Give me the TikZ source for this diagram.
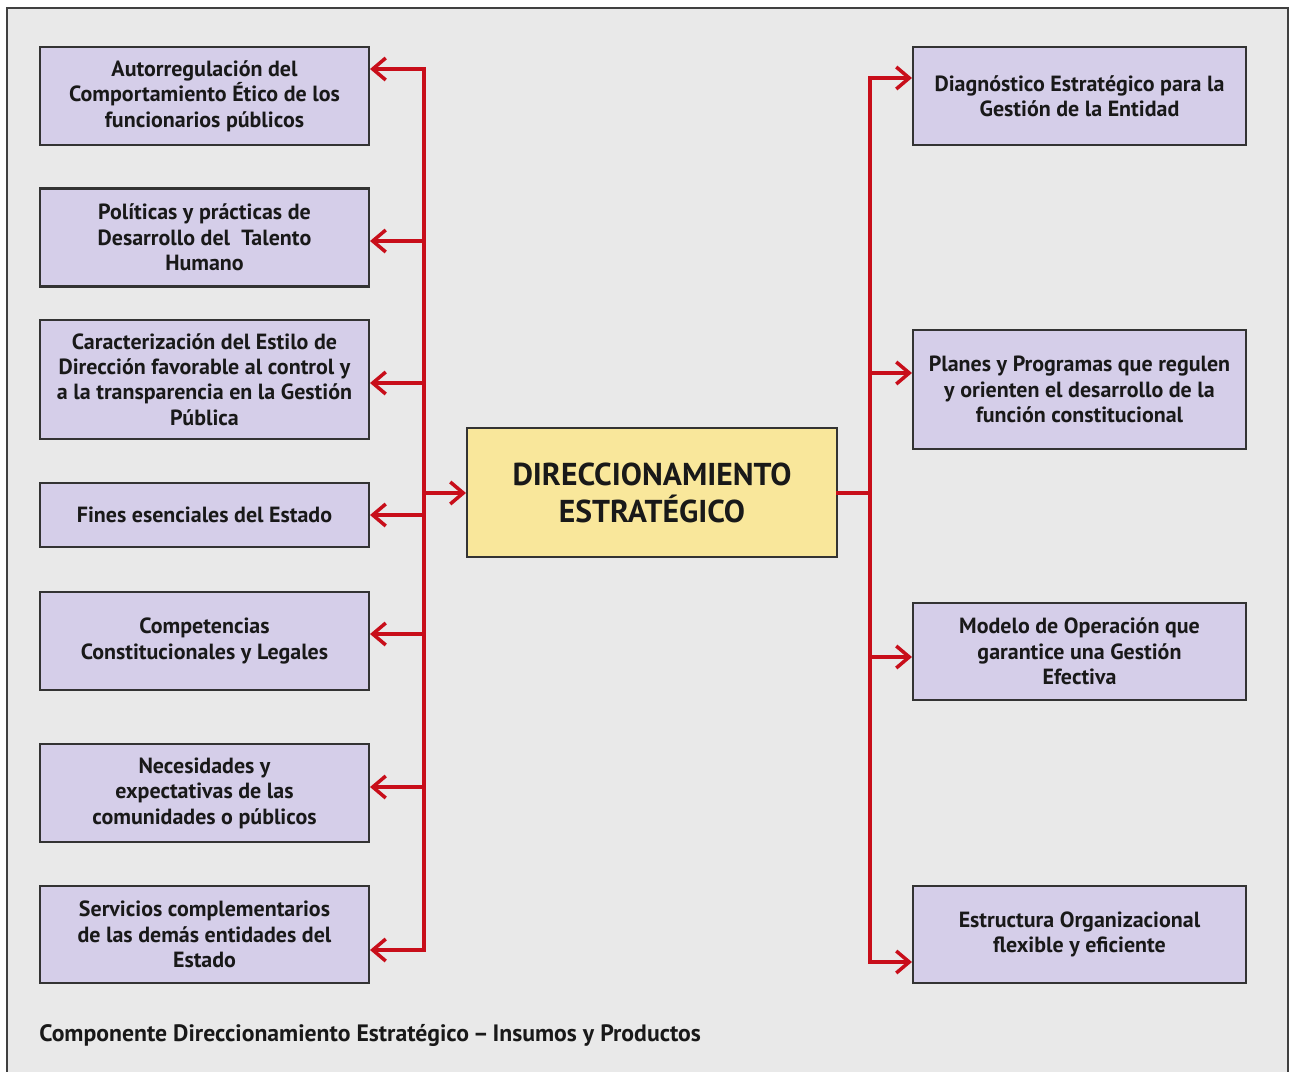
\documentclass[tikz,border=0pt]{standalone}
\usepackage{fontspec}
\setmainfont{PT Sans}
\usetikzlibrary{arrows.meta,calc,positioning}
\definecolor{lila}{RGB}{213,206,233}
\definecolor{amarillo}{RGB}{249,231,155}
\definecolor{rojo}{RGB}{200,14,26}
\definecolor{fondo}{RGB}{233,233,233}
\tikzset{ar/.style={-{Straight Barb[length=2.6mm,width=4.4mm]},rojo,line width=2pt}}
\tikzset{linea/.style={rojo,line width=2pt,line cap=rect}}
\tikzstyle{caja}=[draw=black!80, line width=1.2pt, align=center, inner sep=2pt, text=black!90]
\tikzstyle{insumo}=[caja, fill=lila, minimum width=6.58cm, minimum height=1.96cm, font=\bfseries\fontsize{12.5}{14.5}\selectfont]
\tikzstyle{producto}=[insumo, minimum width=6.66cm]

\begin{document}
\begin{tikzpicture}[x=0.02cm,y=-0.02cm]
      \useasboundingbox (0,0) rectangle (1289,1072);
      \draw[black!75, line width=0.8pt, fill=fondo] (7,8) rectangle (1288,1090);

      % insumos
      \node [insumo] (a1) at (204.5,96) {Autorregulación del\\Comportamiento Ético de los\\funcionarios públicos};
      \node [insumo] (a2) at (204.5,237.5) {Políticas y prácticas de\\Desarrollo del~ Talento\\Humano};
      \node [insumo, minimum height=2.38cm] (a3) at (204.5,379.5) {Caracterización del Estilo de\\Dirección favorable al control y\\a la transparencia en la Gestión\\Pública};
      \node [insumo, minimum height=1.28cm] (a4) at (204.5,515) {Fines esenciales del Estado};
      \node [insumo] (a5) at (204.5,641) {Competencias\\Constitucionales y Legales};
      \node [insumo] (a6) at (204.5,793) {Necesidades y\\expectativas de las\\comunidades o públicos};
      \node [insumo, minimum height=1.94cm] (a7) at (204.5,934.5) {Servicios complementarios\\de las demás entidades del\\Estado};

      \node [caja, fill=amarillo, minimum width=7.4cm, minimum height=2.58cm,
             font=\bfseries\fontsize{18}{21}\selectfont] (dir) at (652,492.5) {DIRECCIONAMIENTO\\ESTRATÉGICO};

      % productos
      \node [producto] (p1) at (1079.5,96) {Diagnóstico Estratégico para la\\Gestión de la Entidad};
      \node [producto, minimum height=2.38cm] (p2) at (1079.5,389.5) {Planes y Programas que regulen\\y orienten el desarrollo de la\\función constitucional};
      \node [producto, minimum height=1.94cm] (p3) at (1079.5,651.5) {Modelo de Operación que\\garantice una Gestión\\Efectiva};
      \node [producto, minimum height=1.94cm] (p4) at (1079.5,934.5) {Estructura Organizacional\\flexible y eficiente};

      \node [anchor=west, inner sep=0pt, font=\bfseries\fontsize{13.5}{16}\selectfont, text=black!90] (titulo) at (39,1035)
            {Componente Direccionamiento Estratégico\,–\,Insumos y Productos};

      % conectores
      \coordinate (bi) at (424,493);
      \coordinate (bo) at (870,493);
      \coordinate (i1) at (424,69);
      \coordinate (i2) at (424,241);
      \coordinate (i3) at (424,383);
      \coordinate (i4) at (424,515);
      \coordinate (i5) at (424,634);
      \coordinate (i6) at (424,787);
      \coordinate (i7) at (424,950);
      \coordinate (o1) at (870,78);
      \coordinate (o2) at (870,373);
      \coordinate (o3) at (870,657);
      \coordinate (o4) at (870,962);

      \draw[linea] (i1) -- (i7);
      \foreach \n in {1,...,7}
        \draw[ar] (i\n) -- (i\n -| a\n.east);
      \draw[ar] (bi) -- (bi -| dir.west);

      \draw[linea] (dir.east |- bo) -- (bo);
      \draw[linea] (o1) -- (o4);
      \foreach \n in {1,...,4}
        \draw[ar] (o\n) -- (o\n -| p\n.west);
\end{tikzpicture}
\end{document}
